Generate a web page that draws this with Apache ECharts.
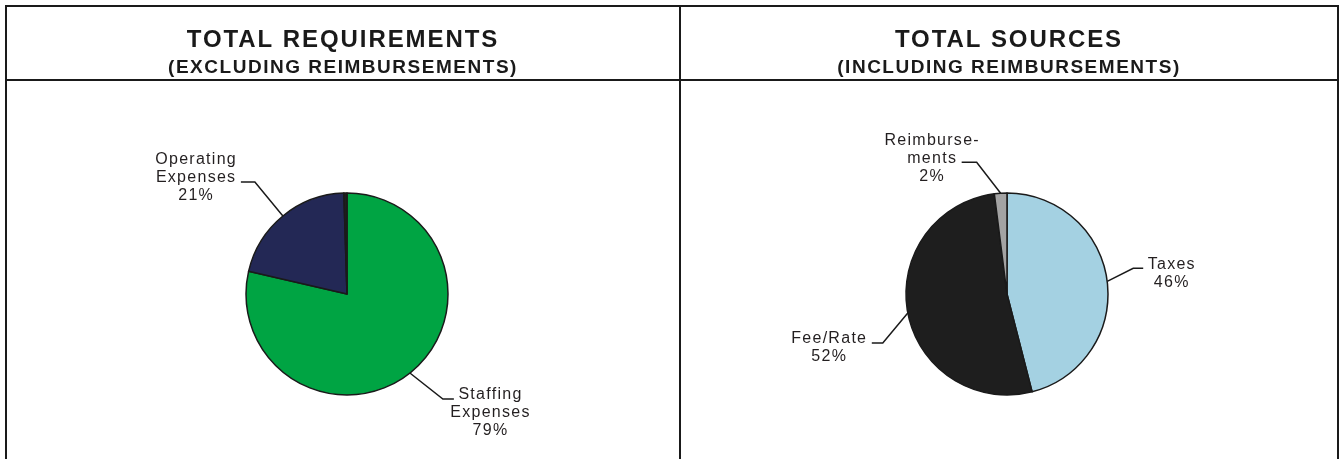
<!DOCTYPE html>
<html>
<head>
<meta charset="utf-8">
<script src="https://cdn.jsdelivr.net/npm/echarts@6/dist/echarts.min.js"></script>
<style>
  html, body { margin: 0; padding: 0; background: #fff; }
  #chart { width: 1341px; height: 459px; }
</style>
</head>
<body>
<div id="chart"></div>
<script>
// requirements pie (clockwise from 12 o'clock)
var reqNames = ['Staffing\nExpenses', 'Operating\nExpenses', '']
var reqValues = [79, 21, 0.5]
var reqColors = ['#00a443', '#232855', '#1e1e1e']

// sources pie
var srcNames = ['Taxes', 'Fee/Rate', 'Reimburse-\nments']
var srcValues = [46, 52, 2]
var srcColors = ['#a4d1e2', '#1e1e1e', '#a3a3a3']

var titles = ['TOTAL REQUIREMENTS', 'TOTAL SOURCES']
var subtitles = ['(EXCLUDING REIMBURSEMENTS)', '(INCLUDING REIMBURSEMENTS)']

var INK = '#1a1a1a'
var TEXT = '#231f20'
var FONT = 'Liberation Sans, Arial, sans-serif'
var LABEL_SIZE = 16
var LINE_H = 18
var R = 101
var frame = { left: 6, right: 1338, top: 6, mid: 680, head: 80, bottom: 459 }
var centers = [[347, 294], [1007, 294]]
// leader line: knee offset from the slice edge (dx, dy), then flat tail length
var reqKnees = [[33, 26, 11], [-28, -34, 14], null]
var srcKnees = [[26, -13, 10], [-25, 30, 11], [-24, -31, 15]]

// the original was typeset with a bit of tracking; canvas can do that too
var SPACING_EM = 0.08
function spacingFor(font) {
  var m = /(\d+(?:\.\d+)?)px/.exec(font || '')
  return m ? (parseFloat(m[1]) * SPACING_EM).toFixed(2) + 'px' : '0px'
}
var proto = CanvasRenderingContext2D.prototype
var rawFillText = proto.fillText
var rawMeasureText = proto.measureText
proto.fillText = function(text, x, y, maxW) {
  this.letterSpacing = spacingFor(this.font)
  return maxW === undefined ? rawFillText.call(this, text, x, y) : rawFillText.call(this, text, x, y, maxW)
}
proto.measureText = function(text) {
  this.letterSpacing = spacingFor(this.font)
  return rawMeasureText.call(this, text)
}

var measureCtx = document.createElement('canvas').getContext('2d')
function rowWidth(s) {
  measureCtx.font = LABEL_SIZE + 'px ' + FONT
  return measureCtx.measureText(s).width
}

function buildData(names, values, colors) {
  return values.map(function(v, i) {
    var item = { name: names[i], value: v, itemStyle: { color: colors[i] } }
    if (!names[i]) {
      item.label = { show: false }
      item.labelLine = { show: false }
    }
    return item
  })
}

// bend the leader like Excel does and hang the label off its tail
function labelPlacer(cy, knees) {
  return function(p) {
    var pts = p.labelLinePoints
    var k = knees[p.dataIndex]
    if (!pts || !k || !p.text) return
    var start = pts[0]
    var knee = [start[0] + k[0], start[1] + k[1]]
    var onLeft = k[0] < 0
    var end = [knee[0] + (onLeft ? -k[2] : k[2]), knee[1]]
    var rows = p.text.split('\n')
    var idx = knee[1] < cy - R / 2 ? Math.floor(rows.length / 2) : 0
    var w = rowWidth(rows[idx])
    var gap = 4.5
    return {
      x: onLeft ? end[0] - gap - w / 2 : end[0] + gap + w / 2,
      y: end[1] - 4 - (idx + 0.5) * LINE_H,
      align: 'center',
      verticalAlign: 'top',
      labelLinePoints: [start, knee, end]
    }
  }
}

function pieSeries(names, values, colors, knees, center) {
  return {
    type: 'pie',
    radius: R,
    center: center,
    startAngle: 90,
    clockwise: true,
    animation: false,
    silent: true,
    avoidLabelOverlap: false,
    itemStyle: { borderColor: INK, borderWidth: 1.5 },
    label: {
      show: true,
      position: 'outside',
      alignTo: 'none',
      color: TEXT,
      fontFamily: FONT,
      fontSize: LABEL_SIZE,
      lineHeight: LINE_H,
      formatter: function(p) {
        return p.name + '\n' + Math.round(p.percent) + '%'
      }
    },
    labelLine: {
      show: true,
      smooth: false,
      lineStyle: { color: INK, width: 1.5 }
    },
    labelLayout: labelPlacer(center[1], knees),
    data: buildData(names, values, colors)
  }
}

function titleItem(i, cx) {
  return {
    text: titles[i],
    subtext: subtitles[i],
    left: cx,
    top: 27,
    textAlign: 'center',
    itemGap: 5,
    padding: 0,
    textStyle: { fontFamily: FONT, fontSize: 24, fontWeight: 'bold', color: INK },
    subtextStyle: { fontFamily: FONT, fontSize: 19, fontWeight: 'bold', color: INK }
  }
}

function hLine(x1, x2, y) {
  return { type: 'line', shape: { x1: x1, y1: y, x2: x2, y2: y }, style: { stroke: INK, lineWidth: 2 } }
}
function vLine(x, y1, y2) {
  return { type: 'line', shape: { x1: x, y1: y1, x2: x, y2: y2 }, style: { stroke: INK, lineWidth: 2 } }
}

var chart = echarts.init(document.getElementById('chart'), null, { renderer: 'canvas' })
chart.setOption({
  backgroundColor: '#fff',
  title: [
    titleItem(0, (frame.left + frame.mid) / 2),
    titleItem(1, (frame.mid + frame.right) / 2)
  ],
  graphic: [
    hLine(frame.left - 1, frame.right + 1, frame.top),
    hLine(frame.left, frame.right, frame.head),
    vLine(frame.left, frame.top, frame.bottom),
    vLine(frame.mid, frame.top, frame.bottom),
    vLine(frame.right, frame.top, frame.bottom)
  ],
  series: [
    pieSeries(reqNames, reqValues, reqColors, reqKnees, centers[0]),
    pieSeries(srcNames, srcValues, srcColors, srcKnees, centers[1])
  ]
})
</script>
</body>
</html>
